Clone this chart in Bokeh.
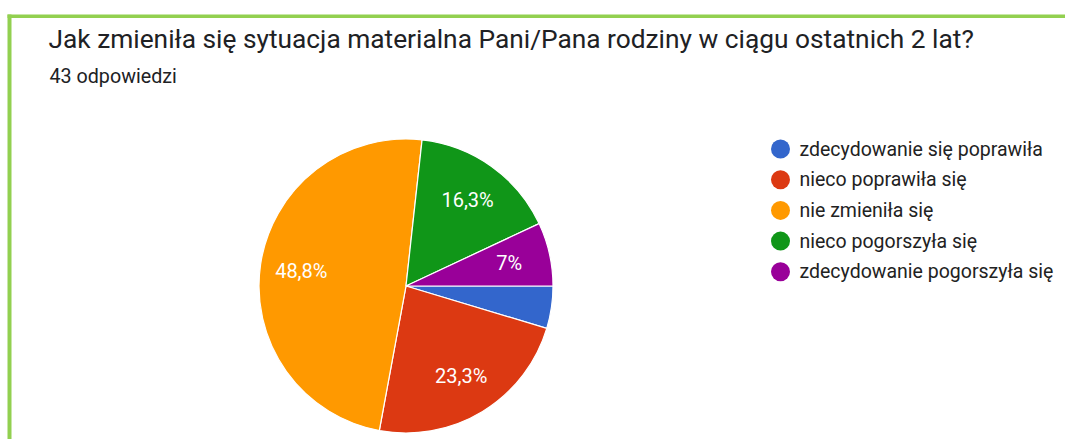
import math
from bokeh.plotting import figure
from bokeh.models import Range1d, ColumnDataSource
from bokeh.core.properties import value
from bokeh.embed import file_html
from bokeh.resources import INLINE

# ---- data ----
categories = ["zdecydowanie się poprawiła", "nieco poprawiła się", "nie zmieniła się",
              "nieco pogorszyła się", "zdecydowanie pogorszyła się"]
counts = [2, 10, 21, 7, 3]
colors = ["#3366cc", "#dc3912", "#ff9900", "#109618", "#990099"]
title_text = "Jak zmieniła się sytuacja materialna Pani/Pana rodziny w ciągu ostatnich 2 lat?"
subtitle_text = "43 odpowiedzi"

W, H = 1065, 439
p = figure(width=W, height=H, output_backend="svg", toolbar_location=None,
           x_range=Range1d(0, W), y_range=Range1d(0, H),
           x_axis_type=None, y_axis_type=None, min_border=0)
p.outline_line_color = None
p.grid.visible = False
p.background_fill_color = "white"
p.border_fill_color = "white"

def sx(x):  # picture x -> data x
    return x
def sy(y):  # picture y -> data y
    return H - y

# frame border (green)
p.quad(left=[sx(7), sx(7)], right=[W + 10, sx(11)], top=[sy(14), sy(14)], bottom=[sy(17.5), -10],
       fill_color="#92d050", line_color=None)

# ---- pie ----
total = sum(counts)
cx, cy, R = sx(405.5), sy(285.5), 147
starts, ends, lx, ly, labels = [], [], [], [], []
cum = 0.0
for c in counts:
    frac = c / total
    a0 = cum * 2 * math.pi
    a1 = (cum + frac) * 2 * math.pi
    starts.append(-a1)
    ends.append(-a0)
    mid = -(a0 + a1) / 2
    lx.append(cx + 0.72 * R * math.cos(mid))
    ly.append(cy + 0.72 * R * math.sin(mid))
    pct = round(frac * 100, 1)
    s = ("%.1f" % pct).replace(".", ",")
    if s.endswith(",0"):
        s = s[:-2]
    labels.append(s + "%" if frac >= 0.05 else "")
    cum += frac

src = ColumnDataSource(dict(start=starts, end=ends, color=colors))
p.wedge(x=cx, y=cy, radius=R, start_angle="start", end_angle="end", direction="anticlock",
        fill_color="color", line_color="white", line_width=1.2, source=src)

p.text(x=lx, y=ly, text=labels, text_color="white", text_font=value("Roboto"),
       text_font_size="20px", text_align="center", text_baseline="middle")

# ---- titles ----
p.text(x=[sx(48)], y=[sy(38.8)], text=[title_text], text_color="#202124",
       text_font=value("Roboto"), text_font_size="26.3px", text_baseline="middle")
p.text(x=[sx(49)], y=[sy(76)], text=[subtitle_text], text_color="#202124",
       text_font=value("Roboto"), text_font_size="19.7px", text_baseline="middle")

# ---- legend ----
ly0, ldy = 148.5, 30.7
leg_y = [sy(ly0 + i * ldy) for i in range(len(categories))]
p.scatter(x=[sx(780)] * len(categories), y=leg_y, size=19, marker="circle",
          fill_color=colors, line_color=None)
p.text(x=[sx(799)] * len(categories), y=leg_y, text=categories, text_color="#222222",
       text_font=value("Roboto"), text_font_size="19.5px", text_baseline="middle")

open("out.html", "w").write(file_html(p, INLINE))
